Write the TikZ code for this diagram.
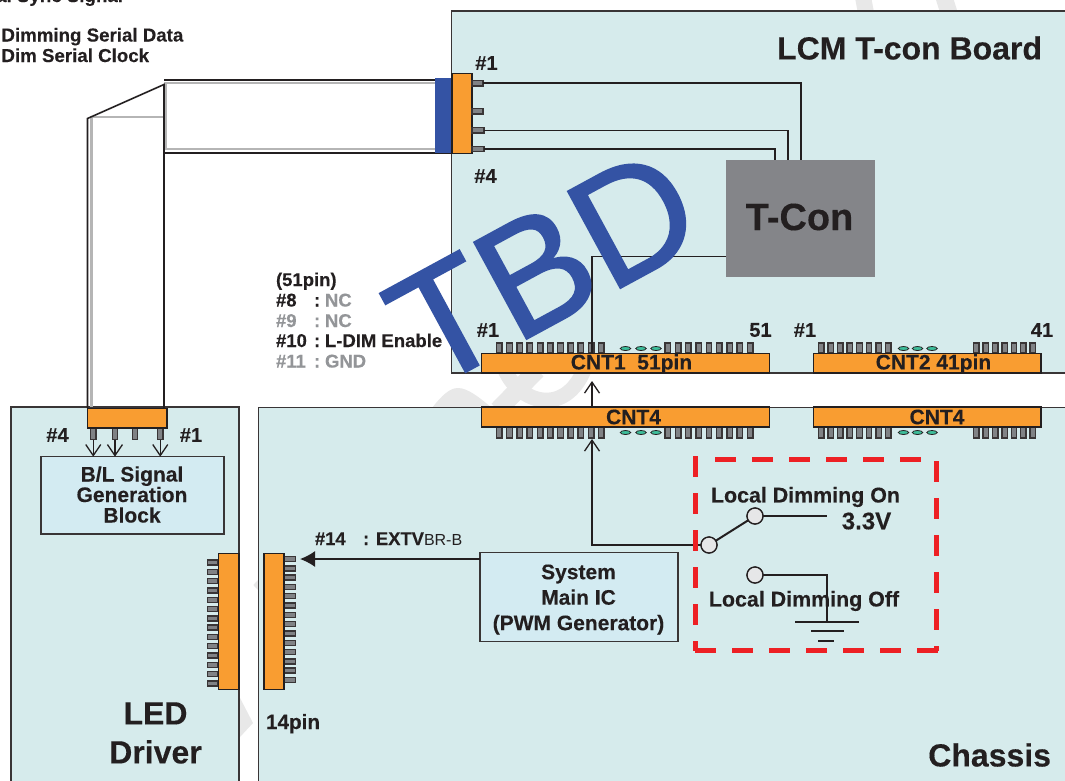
\documentclass[tikz,border=0pt]{standalone}
\usepackage{fontspec}
\setmainfont[BoldFeatures={FakeBold=0.25}]{Liberation Sans}
\newfontfamily\tbdfont[FakeBold=1.1]{Liberation Sans}
\usetikzlibrary{arrows.meta}
\definecolor{panel}{HTML}{D6EBEC}
\definecolor{blockc}{HTML}{D3EBF2}
\definecolor{orangec}{HTML}{F99D31}
\definecolor{inkc}{HTML}{231F20}
\definecolor{pinc}{HTML}{808285}
\definecolor{bluec}{HTML}{3453A4}
\definecolor{greyt}{HTML}{939598}
\definecolor{cablegrey}{HTML}{B5B5B5}
\definecolor{tconc}{HTML}{848589}
\definecolor{redc}{HTML}{ED2024}
\definecolor{dotc}{HTML}{3DBE9B}
\definecolor{wmark}{HTML}{E8E8E8}
\definecolor{termc}{HTML}{E6E7E8}
\tikzset{
  panelbox/.style={draw=inkc!90,line width=1.4pt,fill=panel,inner sep=0pt,outer sep=0pt},
  blockbox/.style={draw=inkc!90,line width=1.4pt,fill=blockc,inner sep=0pt,outer sep=0pt},
  orangebox/.style={draw=inkc,line width=1.6pt,fill=orangec,inner sep=0pt,outer sep=0pt},
  pinbox/.style={draw=inkc!90,line width=1.4pt,fill=pinc,inner sep=0pt,outer sep=0pt},
  dotmark/.style={draw=inkc,line width=0.8pt,fill=dotc},
  txt/.style={font=\fontsize{#1}{#1}\selectfont\bfseries,text=inkc,inner sep=0pt,outer sep=0pt},
  wire/.style={draw=inkc,line width=1.5pt},
  term/.style={circle,draw=inkc,line width=1.3pt,fill=termc,minimum size=16pt,inner sep=0pt,outer sep=0pt},
  barb/.style={-{Straight Barb[length=11pt,width=15pt,line width=1.3pt]}},
  reddash/.style={redc,line width=5pt,dash pattern=on 21pt off 16pt},
}
\newcommand{\bnode}[6]{\node[#1,anchor=north west,minimum width={(#5-#3)*1pt},minimum height={(#6-#4)*1pt}] (#2) at (#3,#4) {};}
\newcommand{\pinsh}[5]{\foreach \k in {1,...,#2} {\draw[pinbox] ({#1+(\k-1)*#3},#4) rectangle ({#1+(\k-1)*#3+5.5},#5);}}
\newcommand{\pinsv}[5]{\foreach \k in {1,...,#2} {\draw[pinbox] (#4,{#1+(\k-1)*#3}) rectangle (#5,{#1+(\k-1)*#3+5});}}
\newcommand{\dotsat}[4]{\foreach \xx in {#1,#2,#3} {\draw[dotmark] (\xx,#4) ellipse [x radius=5.2pt,y radius=2pt];}}
\begin{document}
\begin{tikzpicture}[x=1pt,y=-1pt]
\useasboundingbox (0,0) rectangle (1065,780);
\fill[white] (0,0) rectangle (1065,780);
% watermark traces
\begin{scope}[wmark]
\draw[line width=16pt] (863,-3) -- (866,13);
\draw[line width=17pt] (944,-3) -- (949,13);
\fill (432,408) .. controls (442,395) and (450,388) .. (458,388) .. controls (468,388) and (480,398) .. (492,408) -- cycle;
\draw[line width=15pt] (505,370) .. controls (520,404) and (565,416) .. (584,370);
\draw[line width=18pt] (537,370) -- (498,410);
\fill (240,698) -- (253,723) -- (240,737) -- cycle;
\fill (253.3,585) -- (259,579) -- (259,591) -- cycle;
\end{scope}
% panels
\bnode{panelbox}{lcm}{451.5}{11}{1075}{373}
\bnode{panelbox}{chassis}{258.5}{407.5}{1075}{790}
\bnode{panelbox}{led}{11}{407}{239}{790}
% cable
\coordinate (ca) at (164,84.5);
\coordinate (cb) at (87.5,118.5);
\draw[cablegrey,line width=2.5pt] (435,83) -- (165.5,83) -- (165.5,149) -- (435,149);
\draw[cablegrey,line width=2.5pt] (164,117) -- (91.5,117) -- (91.5,407);
\draw[inkc,line width=1.6pt] (164,80) -- (435,80);
\draw[inkc,line width=1.6pt] (164,152.7) -- (452,152.7);
\draw[inkc,line width=1.6pt] (164,408) -- (ca) -- (cb) -- (87.5,408);
% top connector
\fill[bluec] (435,78) rectangle (452,153);
\bnode{orangebox}{topc}{452}{73.3}{471.7}{153.3}
\bnode{pinbox}{p1}{472}{80.5}{483}{86}
\bnode{pinbox}{p2}{472}{108.5}{483}{114}
\bnode{pinbox}{p3}{472}{127.5}{484}{133}
\bnode{pinbox}{p4}{472}{146.5}{484}{151.5}
% T-con
\node[fill=tconc,anchor=north west,minimum width=149pt,minimum height=117pt,inner sep=0pt,outer sep=0pt] (tcon) at (726,160) {};
\node[txt=38] at (799.5,217) {T-Con};
\coordinate (w1) at (801,160);
\coordinate (w2) at (788,160);
\coordinate (w3) at (775,160);
\draw[wire,line width=1.8pt] (p1.east) -- (p1.east -| w1) -- (w1);
\draw[wire,line width=1.4pt] (p3.east) -- (p3.east -| w2) -- (w2);
\draw[wire,line width=1.4pt] (p4.east) -- (p4.east -| w3) -- (w3);
% CNT1/CNT2
\pinsh{496.5}{11}{10.2}{343}{353}
\pinsh{665}{9}{10.3}{343}{353}
\dotsat{625.5}{641}{656}{348.5}
\pinsh{818.5}{8}{9.55}{343}{353}
\pinsh{973.6}{7}{9.4}{343}{353}
\dotsat{903.5}{917.5}{932}{348.5}
\bnode{orangebox}{cnt1}{481.5}{353.5}{769.5}{373}
\bnode{orangebox}{cnt2}{813.5}{353.5}{1041}{373}
\node[txt=21] at (631.5,364) {CNT1\ \ 51pin};
\node[txt=21] at (933.5,364) {CNT2 41pin};
% CNT4s
\pinsh{496.5}{11}{10.2}{427}{438}
\pinsh{665}{9}{10.3}{427}{438}
\dotsat{625.5}{641}{656}{432.5}
\pinsh{818.5}{8}{9.55}{427}{438}
\pinsh{973.6}{7}{9.4}{427}{438}
\dotsat{903.5}{917.5}{932}{432.5}
\bnode{orangebox}{cnta}{481.5}{407}{769.5}{427}
\bnode{orangebox}{cntb}{813.5}{407}{1041}{427}
\node[txt=21] at (633.5,417) {CNT4};
\node[txt=21] at (937,417) {CNT4};
\coordinate (tl) at (592,256.5);
\draw[wire,line width=1.3pt] (tcon.west |- tl) -- (tl) -- (tl |- cnt1.north);
\draw[wire,barb,line width=1.3pt] (592,407) -- (592,381);
% bottom cable connector
\bnode{pinbox}{q1}{90.5}{428}{96}{439.5}
\bnode{pinbox}{q2}{112.2}{428}{117.7}{439.5}
\bnode{pinbox}{q3}{132.2}{428}{137.7}{439.5}
\bnode{pinbox}{q4}{157.5}{428}{163}{439.5}
\bnode{orangebox}{botc}{87.5}{408.3}{166.7}{427.7}
\bnode{blockbox}{bl}{41}{456.7}{224}{534}
\node[txt=21,align=center,font=\fontsize{21}{20.5}\selectfont\bfseries] at (132,494.5) {B/L Signal\\Generation\\Block};
\draw[wire,barb] (q1.south) -- (q1.south |- bl.north);
\draw[wire,barb] (q2.south) -- (q2.south |- bl.north);
\draw[wire,barb] (q4.south) -- (q4.south |- bl.north);
% 14 pin connectors
\pinsv{560}{14}{9.3}{207.5}{218}
\bnode{orangebox}{ledc}{218.5}{553.3}{239}{689.5}
\pinsv{556.5}{14}{9.3}{284}{295.5}
\bnode{orangebox}{chc}{264}{553.3}{284}{689.5}
\coordinate (chtip) at (300,559);
% system
\bnode{blockbox}{sys}{480}{552.3}{678}{641.7}
\node[txt=21,align=center,font=\fontsize{21}{25.5}\selectfont\bfseries] at (578.5,599.5) {System\\Main IC\\(PWM Generator)};
\draw[wire,-{Latex[length=15pt,width=16pt]}] (sys.west |- chtip) -- (chtip);
% switch
\node[term] (s0) at (709,545) {};
\node[term] (s1) at (755,516) {};
\node[term] (s2) at (755,575) {};
\coordinate (v33) at (827,516);
\coordinate (gnd) at (827,622);
\coordinate (j) at (592,545);
\draw[wire,barb] (s0.west) -- (j) -- (592,439);
\draw[wire,line width=2pt] (s0) -- (s1);
\draw[wire,line width=1.8pt] (s1) -- (v33);
\draw[wire,line width=1.8pt] (s2) -- (s2 -| gnd) -- (gnd);
\draw[wire,line width=1.8pt] (795,622) -- (859,622);
\draw[wire,line width=1.8pt] (811,631) -- (844,631);
\draw[wire,line width=1.8pt] (818,641) -- (834,641);
\node[term] at (709,545) {};
\node[term] at (755,516) {};
\node[term] at (755,575) {};
\draw[reddash] (695,456) -- (695,651);
\draw[reddash] (936.7,461) -- (936.7,651);
\draw[reddash] (715,459) -- (922,459);
\draw[reddash] (695,650.7) -- (939,650.7);
\node[txt=21.4] at (805.5,497) {Local Dimming On};
\node[txt=24] at (866.5,521) {3.3V};
\node[txt=21.4] at (804,601) {Local Dimming Off};
% labels
\node[txt=18.7,anchor=base east] at (123,2) {al Sync Signal};
\node[txt=18.7,anchor=base west] at (1.5,41.5) {Dimming Serial Data};
\node[txt=18.7,anchor=base west] at (1.5,62) {Dim Serial Clock};
\node[txt=20] at (486.5,63) {\#1};
\node[txt=20] at (485.5,176) {\#4};
\node[txt=20] at (488,330) {\#1};
\node[txt=20] at (760.5,330) {51};
\node[txt=20] at (805,330) {\#1};
\node[txt=20] at (1042,330) {41};
\node[txt=20] at (57.5,435) {\#4};
\node[txt=20] at (191,435) {\#1};
\node[txt=18.5,anchor=base west] at (276,286) {(51pin)};
\node[txt=18.5,anchor=base west] at (276,306.5) {\#8};
\node[txt=18.5,anchor=base west] at (314,306.5) {:};
\node[txt=18.5,anchor=base west,text=greyt] at (325,306.5) {NC};
\node[txt=18.5,anchor=base west,text=greyt] at (276,327) {\#9};
\node[txt=18.5,anchor=base west,text=greyt] at (314,327) {:};
\node[txt=18.5,anchor=base west,text=greyt] at (325,327) {NC};
\node[txt=18.5,anchor=base west] at (276,347) {\#10};
\node[txt=18.5,anchor=base west] at (314,347) {:};
\node[txt=18.5,anchor=base west] at (325,347) {L-DIM Enable};
\node[txt=18.5,anchor=base west,text=greyt] at (276,367.5) {\#11};
\node[txt=18.5,anchor=base west,text=greyt] at (314,367.5) {:};
\node[txt=18.5,anchor=base west,text=greyt] at (325,367.5) {GND};
\node[txt=18.4,anchor=base west] at (315,545) {\#14};
\node[txt=18.4,anchor=base west] at (363,545) {: EXTV\fontsize{16}{16}\selectfont\mdseries BR-B};
\node[txt=20.7,anchor=base west] at (266,729) {14pin};
\node[txt=32,anchor=east] at (1042,48) {LCM T-con Board};
\node[txt=32,align=center,font=\fontsize{32}{39}\selectfont\bfseries] at (155.5,733) {LED\\Driver};
\node[txt=32,anchor=east] at (1051,755) {Chassis};
% TBD stamp
\node[anchor=base west,rotate=28.5,text=bluec,font=\tbdfont\fontsize{160}{160}\selectfont,inner sep=0pt] (tbd) at (429,392) {TBD};
\end{tikzpicture}
\end{document}
